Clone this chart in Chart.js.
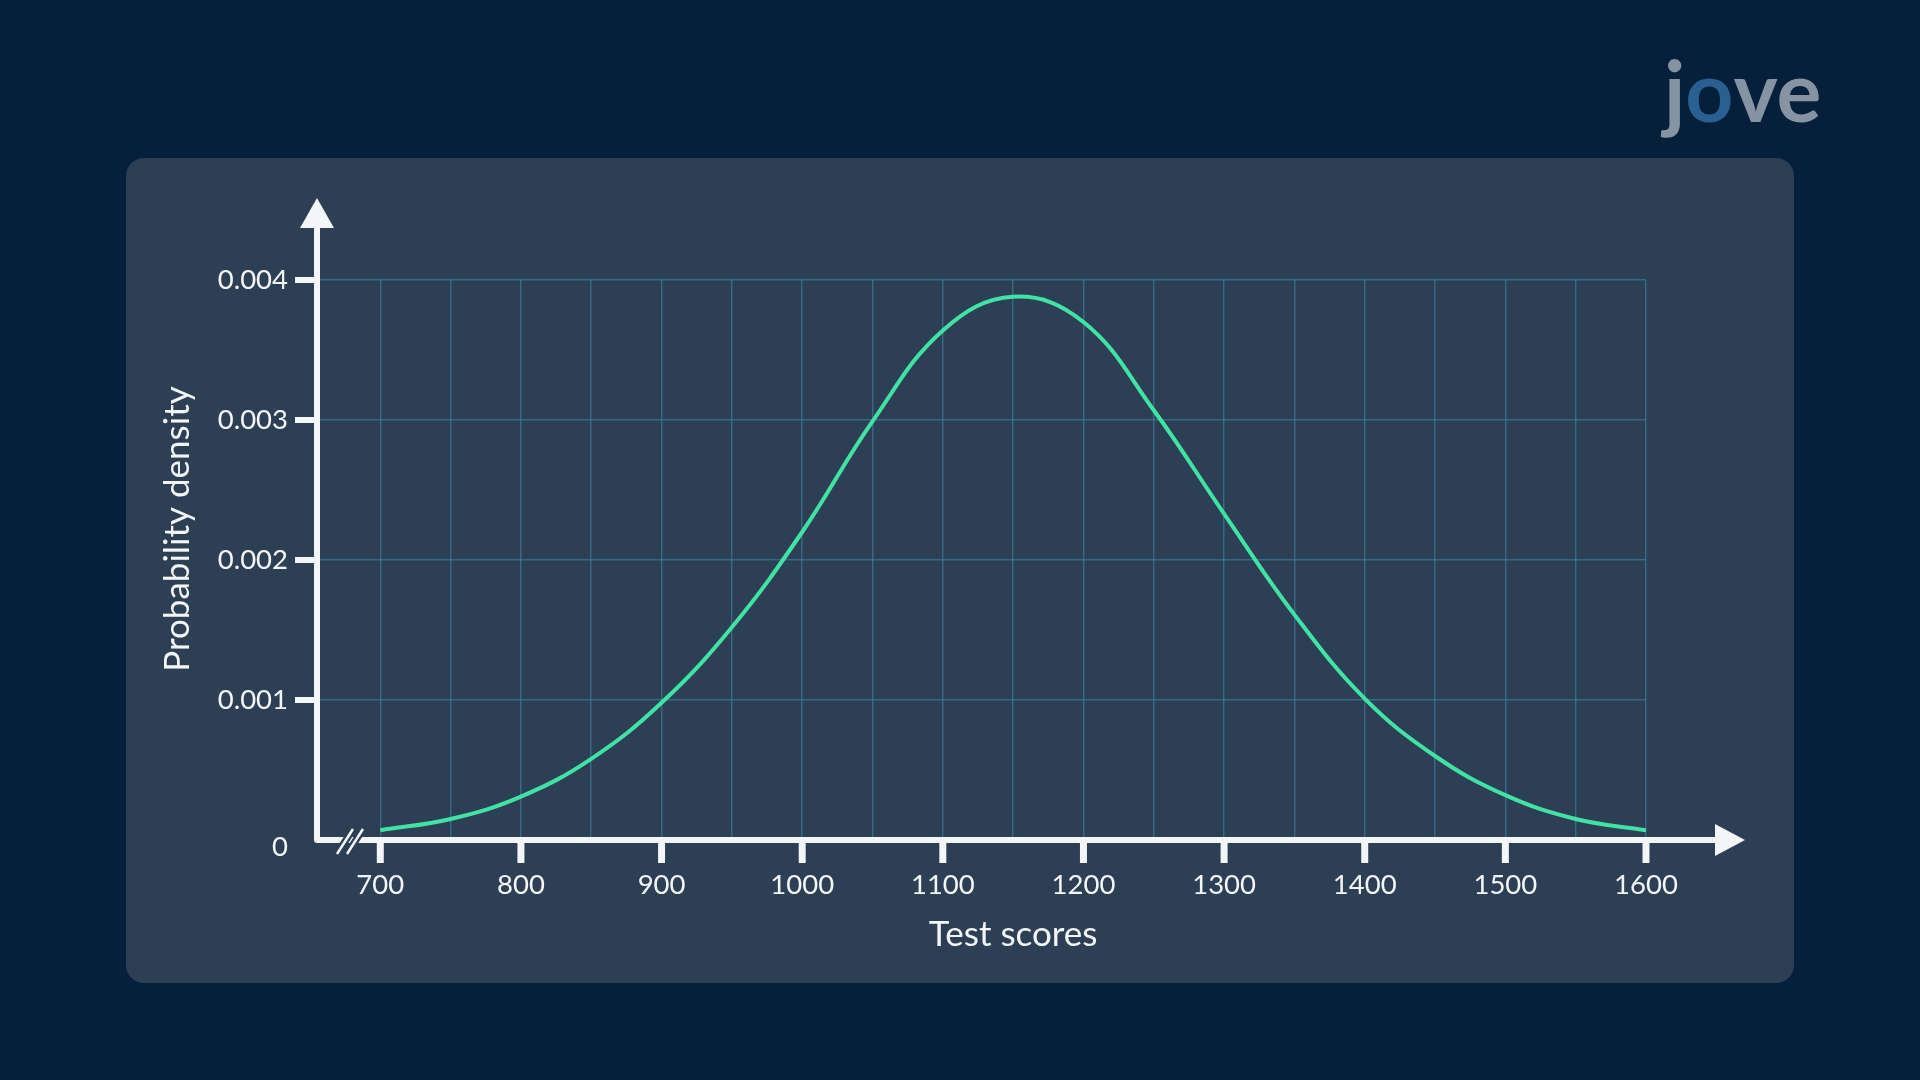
<!DOCTYPE html>
<html>
<head>
<meta charset="utf-8">
<title>Test scores</title>
<script src="https://cdn.jsdelivr.net/npm/chart.js@4.4.1/dist/chart.umd.min.js"></script>
<style>
  html, body { margin: 0; padding: 0; background: #061f3a; overflow: hidden; }
  canvas { display: block; }
</style>
</head>
<body>
<canvas id="densityChart" width="1920" height="1080"></canvas>
<script>
// values
const scores = [700, 750, 800, 850, 900, 950, 1000, 1050, 1100, 1150, 1200, 1250, 1300, 1350, 1400, 1450, 1500, 1550, 1600];
const density = [0.00007, 0.00015, 0.00031, 0.00058, 0.00098, 0.00152, 0.00220, 0.00299, 0.00364, 0.00388, 0.00370, 0.00307, 0.00233, 0.00161, 0.00101, 0.00060, 0.00032, 0.00015, 0.00007];

// grid lines every 50, labels every 100
const gridScores = [700, 750, 800, 850, 900, 950, 1000, 1050, 1100, 1150, 1200, 1250, 1300, 1350, 1400, 1450, 1500, 1550, 1600];
const xLabels = [700, 800, 900, 1000, 1100, 1200, 1300, 1400, 1500, 1600];
const yTicks = [0, 0.001, 0.002, 0.003, 0.004];

const xTitle = 'Test scores';
const yTitle = 'Probability density';

const bgColor = '#061f3a';
const panelColor = '#2c3f54';
const gridColor = 'rgba(64,140,172,0.55)';
const axisColor = '#f3f5f7';
const curveColor = '#42e2a4';

Chart.defaults.font.family = 'Lato';

// background, panel, axes with arrows, tick marks, titles
const decor = {
  id: 'decor',
  beforeDraw(chart) {
    const ctx = chart.ctx;
    ctx.save();
    ctx.fillStyle = bgColor;
    ctx.fillRect(0, 0, chart.width, chart.height);
    ctx.fillStyle = panelColor;
    ctx.beginPath();
    ctx.roundRect(126, 158, 1668, 825, 18);
    ctx.fill();

    // watermark
    ctx.font = 'bold 84px Lato';
    ctx.textBaseline = 'alphabetic';
    ctx.textAlign = 'left';
    ctx.fillStyle = '#8593a3';
    ctx.fillText('j', 1664, 122);
    const jw = ctx.measureText('j').width;
    ctx.fillStyle = '#2a5f92';
    ctx.fillText('o', 1664 + jw, 122);
    const ow = ctx.measureText('o').width;
    ctx.fillStyle = '#8593a3';
    ctx.fillText('ve', 1664 + jw + ow, 122);
    ctx.restore();
  },
  afterDraw(chart) {
    const ctx = chart.ctx;
    const area = chart.chartArea;
    const xs = chart.scales.x;
    const ys = chart.scales.y;
    const left = area.left;
    const bottom = ys.getPixelForValue(0);
    const yTop = area.top - 82;
    const xEnd = area.right + 99;

    ctx.save();
    ctx.strokeStyle = axisColor;
    ctx.fillStyle = axisColor;
    ctx.lineJoin = 'round';
    ctx.lineCap = 'butt';

    // axis lines
    ctx.lineWidth = 6;
    ctx.beginPath();
    ctx.moveTo(left, yTop + 30);
    ctx.lineTo(left, bottom);
    ctx.lineTo(xEnd - 28, bottom);
    ctx.stroke();

    // arrow heads
    ctx.beginPath();
    ctx.moveTo(left, yTop);
    ctx.lineTo(left + 17, yTop + 30);
    ctx.lineTo(left - 17, yTop + 30);
    ctx.closePath();
    ctx.fill();
    ctx.beginPath();
    ctx.moveTo(xEnd, bottom);
    ctx.lineTo(xEnd - 30, bottom - 16);
    ctx.lineTo(xEnd - 30, bottom + 16);
    ctx.closePath();
    ctx.fill();

    // x tick marks
    ctx.lineWidth = 7;
    xLabels.forEach(v => {
      const px = xs.getPixelForValue(v);
      ctx.beginPath();
      ctx.moveTo(px, bottom);
      ctx.lineTo(px, bottom + 23);
      ctx.stroke();
    });

    // y tick marks
    ctx.lineWidth = 6;
    yTicks.slice(1).forEach(v => {
      const py = ys.getPixelForValue(v);
      ctx.beginPath();
      ctx.moveTo(left - 22, py);
      ctx.lineTo(left, py);
      ctx.stroke();
    });

    // axis break "//"
    [20, 30].forEach(dx => {
      ctx.lineWidth = 7;
      ctx.strokeStyle = panelColor;
      ctx.beginPath();
      ctx.moveTo(left + dx, bottom + 14);
      ctx.lineTo(left + dx + 16, bottom - 11);
      ctx.stroke();
    });
    [20, 30].forEach(dx => {
      ctx.lineWidth = 2.5;
      ctx.strokeStyle = axisColor;
      ctx.beginPath();
      ctx.moveTo(left + dx, bottom + 14);
      ctx.lineTo(left + dx + 16, bottom - 11);
      ctx.stroke();
    });

    // zero label sits a little below the axis
    ctx.font = '27.5px Lato';
    ctx.textAlign = 'right';
    ctx.textBaseline = 'middle';
    ctx.fillText('0', left - 29, bottom + 7);

    // axis titles
    const x0 = xs.getPixelForValue(xLabels[0]);
    const x1 = xs.getPixelForValue(xLabels[xLabels.length - 1]);
    ctx.font = '35px Lato';
    ctx.textAlign = 'center';
    ctx.textBaseline = 'alphabetic';
    ctx.fillText(xTitle, (x0 + x1) / 2, bottom + 106);

    ctx.translate(left - 139, (yTop + bottom) / 2 + 10);
    ctx.rotate(-Math.PI / 2);
    ctx.font = '35px Lato';
    ctx.textBaseline = 'middle';
    ctx.fillText(yTitle, 0, 0);
    ctx.restore();
  }
};

var ctx = document.getElementById('densityChart');
var densityChart = new Chart(ctx, {
  type: 'line',
  data: {
    datasets: [{
      label: 'Density',
      data: scores.map((s, i) => ({ x: s, y: density[i] })),
      borderColor: curveColor,
      borderWidth: 4,
      pointRadius: 0,
      fill: false,
      tension: 0.4
    }]
  },
  options: {
    responsive: false,
    animation: false,
    devicePixelRatio: 1,
    layout: { padding: { left: 0, top: 280, right: 274, bottom: 0 } },
    plugins: {
      legend: { display: false },
      tooltip: { enabled: false }
    },
    scales: {
      x: {
        type: 'linear',
        min: 655,
        max: 1600,
        afterBuildTicks: s => { s.ticks = gridScores.map(v => ({ value: v })); },
        afterFit: s => { s.height = 240; },
        grid: { color: gridColor, lineWidth: 1.5, drawTicks: false },
        border: { display: false },
        ticks: {
          padding: 29,
          color: axisColor,
          font: { size: 27.5 },
          maxRotation: 0,
          autoSkip: false,
          callback: v => xLabels.includes(v) ? String(v) : ''
        }
      },
      y: {
        min: 0,
        max: 0.004,
        afterBuildTicks: s => { s.ticks = yTicks.map(v => ({ value: v })); },
        afterFit: s => { s.width = 317; },
        grid: { color: gridColor, lineWidth: 1.5, drawTicks: false },
        border: { display: false },
        ticks: {
          padding: 29,
          color: axisColor,
          font: { size: 27.5 },
          callback: v => v === 0 ? '' : v.toFixed(3)
        }
      }
    }
  },
  plugins: [decor]
});
</script>
</body>
</html>
